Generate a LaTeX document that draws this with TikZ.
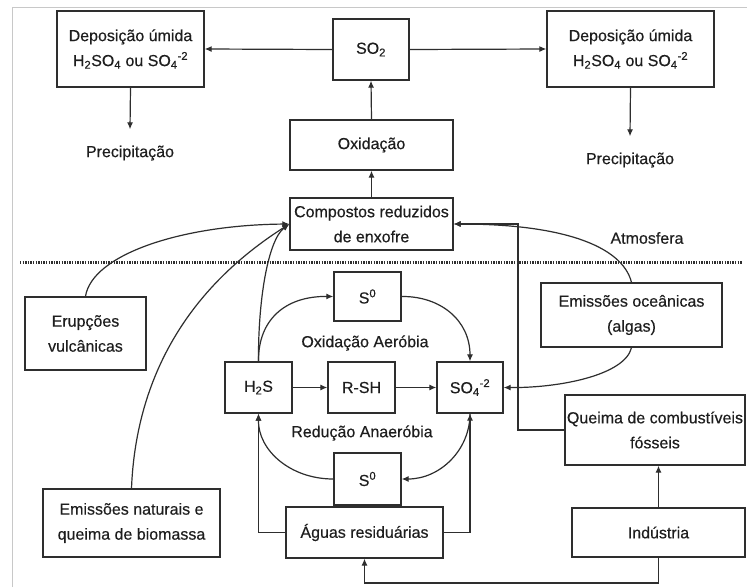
\documentclass[tikz,border=0pt]{standalone}
\usepackage{fontspec}
\setmainfont{Liberation Sans}
\newfontfamily\dfam[FakeBold=0.35]{Liberation Sans}
\usetikzlibrary{arrows.meta}
\definecolor{linec}{HTML}{2E2E2E}
\definecolor{textc}{HTML}{1E1E1E}
\definecolor{framec}{HTML}{C8C8C8}
\newcommand{\dfont}{\dfam\fontsize{16}{25}\selectfont}
\begin{document}
\begin{tikzpicture}[x=1pt,y=-1pt,
 box/.style={draw=linec,line width=1.3pt,fill=white,inner sep=0pt,align=center,font=\dfont,text=textc},
 lbl/.style={inner sep=0pt,font=\dfont,text=textc,align=center},
 precip/.style={lbl,inner ysep=16pt},
 arr/.style={draw=linec,line width=1.2pt,-{Latex[length=7pt,width=6pt]}},
 ln/.style={draw=linec,line width=1.2pt}]
\useasboundingbox (0,0) rectangle (747,587);
\fill[white] (0,0) rectangle (747,587);
\draw[framec,line width=1pt] (12,587) -- (12,7) -- (747,7);

% top part
\node[box,minimum width=147pt,minimum height=76pt] (depL) at (130.5,49) {Deposição úmida\\H\textsubscript{2}SO\textsubscript{4} ou SO\textsubscript{4}\textsuperscript{-2}};
\node[box,minimum width=76pt,minimum height=61pt] (so2) at (371,49.5) {SO\textsubscript{2}};
\node[box,minimum width=167pt,minimum height=76pt] (depR) at (630.5,49) {Deposição úmida\\H\textsubscript{2}SO\textsubscript{4} ou SO\textsubscript{4}\textsuperscript{-2}};
\node[precip] (precL) at (130,153) {Precipitação};
\node[precip] (precR) at (630,160) {Precipitação};
\node[box,minimum width=163pt,minimum height=50pt] (oxid) at (371.5,145) {Oxidação};
\node[box,minimum width=163pt,minimum height=52pt] (comp) at (371.5,224) {Compostos reduzidos\\de enxofre};
\node[lbl] (atm) at (647,238) {Atmosfera};

% dotted separator
\draw[linec,line width=3pt,dash pattern=on 1.4pt off 1.2pt] (20,262) -- (742,262);

% lower part
\node[box,minimum width=121pt,minimum height=73pt] (erup) at (85.5,333.5) {Erupções\\vulcânicas};
\node[box,minimum width=181pt,minimum height=64pt] (oce) at (631.5,315) {Emissões oceânicas\\(algas)};
\node[box,minimum width=67pt,minimum height=49pt] (s0t) at (367.5,296.5) {S\textsuperscript{0}};
\node[lbl] (oxa) at (365,343) {Oxidação Aeróbia};
\node[box,minimum width=67pt,minimum height=51pt] (h2s) at (258.5,387.5) {H\textsubscript{2}S};
\node[box,minimum width=67pt,minimum height=51pt] (rsh) at (361.5,387.5) {R-SH};
\node[box,minimum width=66pt,minimum height=51pt] (so4) at (470,387.5) {SO\textsubscript{4}\textsuperscript{-2}};
\node[lbl] (reda) at (362,433) {Redução Anaeróbia};
\node[box,minimum width=180pt,minimum height=70pt] (queima) at (655,430) {Queima de combustíveis\\fósseis};
\node[box,minimum width=67pt,minimum height=52pt] (s0b) at (367.5,479) {S\textsuperscript{0}};
\node[box,minimum width=157pt,minimum height=51pt] (aguas) at (364.5,532.5) {Águas residuárias};
\node[box,minimum width=173pt,minimum height=49pt] (ind) at (658.5,532.5) {Indústria};
\node[box,minimum width=177pt,minimum height=68pt] (emnat) at (131.5,523) {Emissões naturais e\\queima de biomassa};

\coordinate (qc) at (518,224);
\coordinate (ic) at (658.5,583);

% connectors
\draw[arr] (so2.west) -- (depL.east);
\draw[arr] (so2.east) -- (depR.west);
\draw[arr] (depL.south) -- (precL.north);
\draw[arr] (depR.south) -- (precR.north);
\draw[arr] (oxid.north) -- (so2.south);
\draw[arr] (comp.north) -- (oxid.south);

\draw[arr] (erup.north) .. controls (92,255) and (180,225) .. (comp.west);
\draw[arr] (emnat.north) .. controls (135,400) and (170,300) .. (comp.west);
\draw[arr] (h2s.north) .. controls (258,300) and (268,240) .. (comp.west);
\draw[arr] (h2s.north) .. controls (258,320) and (285,296) .. (s0t.west);
\draw[arr] (s0t.east) .. controls (440,296) and (470,320) .. (so4.north);
\draw[arr] (h2s.east) -- (rsh.west);
\draw[arr] (rsh.east) -- (so4.west);
\draw[arr] (s0b.west) .. controls (290,479) and (258,450) .. (h2s.south);
\draw[arr] (so4.south) .. controls (470,450) and (440,479) .. (s0b.east);
\draw[arr] (aguas.west) -| (h2s.south);
\draw[arr] (aguas.east) -| (so4.south);
\draw[arr] (ind.south) -- (ic) -| (aguas.south);
\draw[arr] (ind.north) -- (ind.north |- queima.south);
\draw[arr] (queima.west) -| (qc) -- (comp.east);
\draw[arr] (oce.north) .. controls (622,245) and (560,224) .. (comp.east);
\draw[arr] (oce.south) .. controls (625,375) and (560,388) .. (so4.east);
\end{tikzpicture}
\end{document}
